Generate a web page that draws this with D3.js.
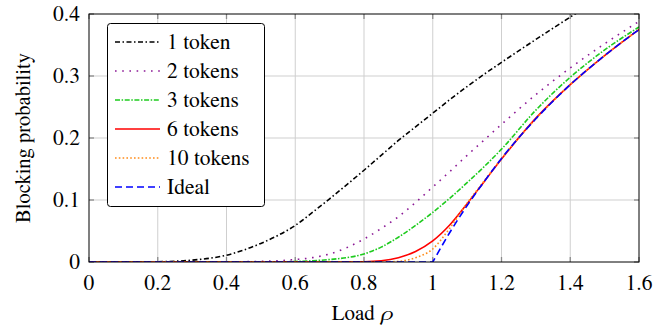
<!DOCTYPE html>
<html>
<head>
<meta charset="utf-8">
<script src="https://d3js.org/d3.v7.min.js"></script>
<style>
  body { margin: 0; background: #fff; }
</style>
</head>
<body>
<svg width="669" height="329"></svg>
<script>
// load values shared by every series
const rho = [0, 0.2, 0.3, 0.4, 0.5, 0.55, 0.6, 0.65, 0.7, 0.8, 0.85, 0.9, 0.95, 1.0, 1.05, 1.1, 1.15, 1.2, 1.3, 1.4, 1.5, 1.6];

const oneToken    = [0, 0.0005, 0.003, 0.011, 0.03, 0.043, 0.059, 0.08, 0.102, 0.148, 0.172, 0.196, 0.218, 0.240, 0.262, 0.283, 0.303, 0.322, 0.359, 0.395, 0.43, 0.463];
const twoTokens   = [0, 0, 0, 0.0002, 0.001, 0.002, 0.004, 0.007, 0.013, 0.037, 0.054, 0.073, 0.096, 0.121, 0.146, 0.172, 0.197, 0.222, 0.27, 0.313, 0.352, 0.388];
const threeTokens = [0, 0, 0, 0, 0, 0.0002, 0.0008, 0.002, 0.004, 0.013, 0.024, 0.04, 0.059, 0.08, 0.103, 0.128, 0.154, 0.182, 0.245, 0.298, 0.342, 0.379];
const sixTokens   = [0, 0, 0, 0, 0, 0, 0, 0, 0, 0.0005, 0.002, 0.007, 0.017, 0.034, 0.06, 0.094, 0.13, 0.166, 0.232, 0.286, 0.333, 0.375];
const tenTokens   = [0, 0, 0, 0, 0, 0, 0, 0, 0, 0, 0, 0.001, 0.007, 0.021, 0.055, 0.095, 0.131, 0.167, 0.231, 0.286, 0.333, 0.375];
const ideal       = [0, 0, 0, 0, 0, 0, 0, 0, 0, 0, 0, 0, 0, 0, 0.048, 0.091, 0.13, 0.167, 0.231, 0.286, 0.333, 0.375];

const seriesNames = ["1 token", "2 tokens", "3 tokens", "6 tokens", "10 tokens", "Ideal"];
const xTicks = [0, 0.2, 0.4, 0.6, 0.8, 1, 1.2, 1.4, 1.6];
const xTickLabels = ["0", "0.2", "0.4", "0.6", "0.8", "1", "1.2", "1.4", "1.6"];
const yTicks = [0, 0.1, 0.2, 0.3, 0.4];
const yTickLabels = ["0", "0.1", "0.2", "0.3", "0.4"];

const styles = [
    { color: "#000000", dash: "5,2.5,1.5,2.5" },
    { color: "#8c1a96", dash: "1.6,5.6" },
    { color: "#1ecb1e", dash: "5,1.6,1.5,1.6" },
    { color: "#ff0000", dash: null },
    { color: "#ff8c1a", dash: "1.6,2.2" },
    { color: "#0000ff", dash: "7,4" }
];
const allSeries = [oneToken, twoTokens, threeTokens, sixTokens, tenTokens, ideal];

let svg = d3.select("svg"),
    plotLeft = 89, plotRight = 639, plotTop = 14, plotBottom = 262,
    fontFamily = "'TeX Gyre Termes', 'Liberation Serif', 'Times New Roman', serif",
    fontSize = 21.5;

let x = d3.scaleLinear().domain([0, 1.6]).range([plotLeft, plotRight]),
    y = d3.scaleLinear().domain([0, 0.4]).range([plotBottom, plotTop]);

function label(sel, size) {
    return sel.style("font-family", fontFamily)
        .style("font-size", (size || fontSize) + "px")
        .style("fill", "#000");
}

svg.append("defs").append("clipPath").attr("id", "plotClip")
    .append("rect")
    .attr("x", plotLeft).attr("y", plotTop)
    .attr("width", plotRight - plotLeft).attr("height", plotBottom - plotTop);

// grid
let grid = svg.append("g");
grid.selectAll(".gx").data(xTicks.slice(1, -1)).enter().append("line")
    .attr("x1", d => x(d)).attr("x2", d => x(d))
    .attr("y1", plotTop).attr("y2", plotBottom)
    .attr("stroke", "#cfcfcf").attr("stroke-width", 1);
grid.selectAll(".gy").data(yTicks.slice(1, -1)).enter().append("line")
    .attr("y1", d => y(d)).attr("y2", d => y(d))
    .attr("x1", plotLeft).attr("x2", plotRight)
    .attr("stroke", "#cfcfcf").attr("stroke-width", 1);

// inward tick marks on all four sides
let tickLen = 5, tickColor = "#8a8a8a";
let ticks = svg.append("g").attr("stroke", tickColor).attr("stroke-width", 1.3);
xTicks.forEach(function(t) {
    ticks.append("line").attr("x1", x(t)).attr("x2", x(t)).attr("y1", plotBottom).attr("y2", plotBottom - tickLen);
    ticks.append("line").attr("x1", x(t)).attr("x2", x(t)).attr("y1", plotTop).attr("y2", plotTop + tickLen);
});
yTicks.forEach(function(t) {
    ticks.append("line").attr("y1", y(t)).attr("y2", y(t)).attr("x1", plotLeft).attr("x2", plotLeft + tickLen);
    ticks.append("line").attr("y1", y(t)).attr("y2", y(t)).attr("x1", plotRight).attr("x2", plotRight - tickLen);
});

// curves
let line = d3.line()
    .x(d => x(d[0]))
    .y(d => y(d[1]))
    .curve(d3.curveMonotoneX);

let curves = svg.append("g").attr("clip-path", "url(#plotClip)");
allSeries.forEach(function(vals, i) {
    let pts = rho.map((r, j) => [r, vals[j]]);
    let d;
    if (i === allSeries.length - 1) {
        // ideal has a sharp corner where it leaves zero
        let k = vals.findIndex(v => v > 0) - 1;
        d = "M" + x(pts[0][0]) + "," + y(0) + "L" + line(pts.slice(k)).slice(1);
    } else {
        d = line(pts);
    }
    curves.append("path")
        .attr("d", d)
        .attr("fill", "none")
        .attr("stroke", styles[i].color)
        .attr("stroke-width", 1.6)
        .attr("stroke-dasharray", styles[i].dash);
});

// frame
svg.append("rect")
    .attr("x", plotLeft).attr("y", plotTop)
    .attr("width", plotRight - plotLeft).attr("height", plotBottom - plotTop)
    .attr("fill", "none").attr("stroke", "#000").attr("stroke-width", 1);

// tick labels
svg.append("g").selectAll("text").data(xTicks).enter().append("text")
    .attr("x", d => x(d)).attr("y", plotBottom + 28)
    .attr("text-anchor", "middle")
    .call(label)
    .text((d, i) => xTickLabels[i]);
svg.append("g").selectAll("text").data(yTicks).enter().append("text")
    .attr("x", plotLeft - 9).attr("y", d => y(d) + 7)
    .attr("text-anchor", "end")
    .call(label)
    .text((d, i) => yTickLabels[i]);

// axis titles
let xTitle = svg.append("text")
    .attr("x", 362).attr("y", 320)
    .attr("text-anchor", "middle")
    .call(label, 21);
xTitle.append("tspan").text("Load ");
xTitle.append("tspan").style("font-style", "italic").text("\u03c1");

svg.append("text")
    .attr("transform", "translate(30," + ((plotTop + plotBottom) / 2) + ") rotate(-90)")
    .attr("text-anchor", "middle")
    .call(label, 20.5)
    .text("Blocking probability");

// legend
let legend = svg.append("g");
legend.append("rect")
    .attr("x", 107.5).attr("y", 23.5)
    .attr("width", 157).attr("height", 183)
    .attr("rx", 3)
    .attr("fill", "#fff").attr("stroke", "#000").attr("stroke-width", 1);
seriesNames.forEach(function(name, i) {
    let ly = 42 + i * 29;
    legend.append("line")
        .attr("x1", 115).attr("x2", 160)
        .attr("y1", ly).attr("y2", ly)
        .attr("stroke", styles[i].color)
        .attr("stroke-width", 1.6)
        .attr("stroke-dasharray", styles[i].dash);
    legend.append("text")
        .attr("x", 167).attr("y", ly + 7)
        .call(label)
        .text(name);
});
</script>
</body>
</html>
